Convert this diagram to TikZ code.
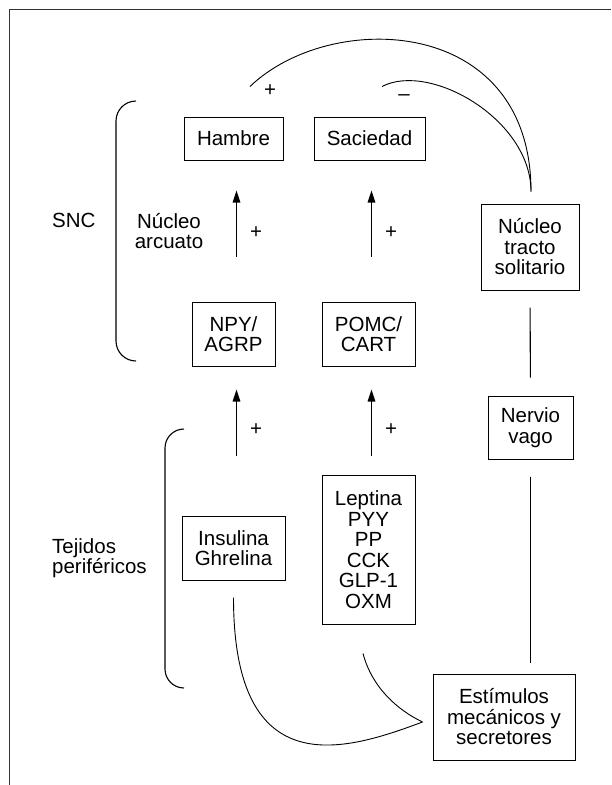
\documentclass[tikz,border=0pt]{standalone}
\usepackage{fontspec}
\setmainfont{Liberation Sans}
\usetikzlibrary{arrows.meta}

\begin{document}
\begin{tikzpicture}[x=1pt, y=-1pt,
  font=\fontsize{20.5}{20.5}\selectfont,
  box/.style={draw, line width=1pt, align=center, inner sep=2pt},
  sign/.style={inner sep=0pt},
  link/.style={line width=1.1pt},
  feed/.style={line width=0.9pt},
  rise/.style={line width=1.2pt, -{Triangle[length=12pt,width=7.5pt]}}]

\useasboundingbox (0,0) rectangle (611,785);

% Frame
\draw[line width=1.5pt, black!80] (9.4,785) -- (9.4,9.3) -- (611,9.3);

% Hypothalamus
\node[box, minimum width=99pt, minimum height=43pt] (hambre) at (233.5,138.5) {Hambre};
\node[box, minimum width=111pt, minimum height=43pt] (saciedad) at (369.5,138.5) {Saciedad};
\node[box, minimum width=83pt, minimum height=64pt] (npy) at (233.5,334) {NPY/\\AGRP};
\node[box, minimum width=93pt, minimum height=64pt] (pomc) at (368.5,334) {POMC/\\CART};

% Peripheral signals
\node[box, minimum width=103pt, minimum height=64pt] (insulina) at (233.5,548) {Insulina\\Ghrelina};
\node[box, minimum width=93pt, minimum height=149pt] (leptina) at (368.5,549.5) {Leptina\\PYY\\PP\\CCK\\GLP-1\\OXM};

% Vagal route
\node[box, minimum width=98pt, minimum height=86pt] (nts) at (530,247) {Núcleo\\tracto\\solitario};
\node[box, minimum width=85pt, minimum height=63pt] (vago) at (530.5,427.5) {Nervio\\vago};
\node[box, minimum width=142pt, minimum height=86pt] (estimulos) at (504,717) {Estímulos\\mecánicos y\\secretores};

% Side labels
\node[sign, anchor=west] (snc) at (52,220) {SNC};
\node[sign, align=center] (arcuato) at (169,231) {Núcleo\\arcuato};
\node[sign, anchor=west, align=left] (tejidos) at (52,558) {Tejidos\\periféricos};

% Brackets
\draw[link, rounded corners=20pt] (136,101) -- (116,101) -- (116,361) -- (136,361);
\draw[link, rounded corners=19pt] (184,429) -- (165,429) -- (165,688) -- (184,688);

% Stimulating arrows
\foreach \from/\to/\s/\e/\p in {npy/hambre/45pt/30pt/0.486, pomc/saciedad/45pt/30pt/0.486,
    insulina/npy/60pt/23pt/0.58, leptina/pomc/19pt/23pt/0.42}
  \draw[rise, shorten <=\s, shorten >=\e] ([xshift=3pt]\from.north) -- ([xshift=3pt]\from.north |- \to.south)
    node[sign, pos=\p, anchor=west, xshift=13pt] {+};

% Vagal lines
\draw[link, shorten <=17pt, shorten >=18pt] (nts.south) -- (vago.north);
\draw[link, shorten <=17pt, shorten >=11pt] (vago.south) -- (vago.south |- estimulos.north);

% Feedback arcs
\coordinate (ntstop) at ([xshift=1pt, yshift=12pt]nts.north);
\draw[feed] ([xshift=16.5pt, yshift=30pt]hambre.north) .. controls +(80,-77) and +(0,-177) .. (ntstop)
  node[sign, pos=0, xshift=20pt, yshift=-4pt] {+};
\draw[feed] ([xshift=12.5pt, yshift=30pt]saciedad.north) .. controls +(48,-25) and +(0,-72) .. (ntstop)
  node[sign, pos=0, xshift=22pt, yshift=-11pt] {–};

% Stimuli curves
\coordinate (meet) at ([xshift=-10pt, yshift=-5pt]estimulos.west);
\draw[feed] ([yshift=-17pt]insulina.south) .. controls +(0,190) and +(-75,28) .. (meet);
\draw[feed] ([xshift=-5.5pt, yshift=-29pt]leptina.south) .. controls +(9,34) and +(-25,-12) .. (meet);

\end{tikzpicture}
\end{document}
